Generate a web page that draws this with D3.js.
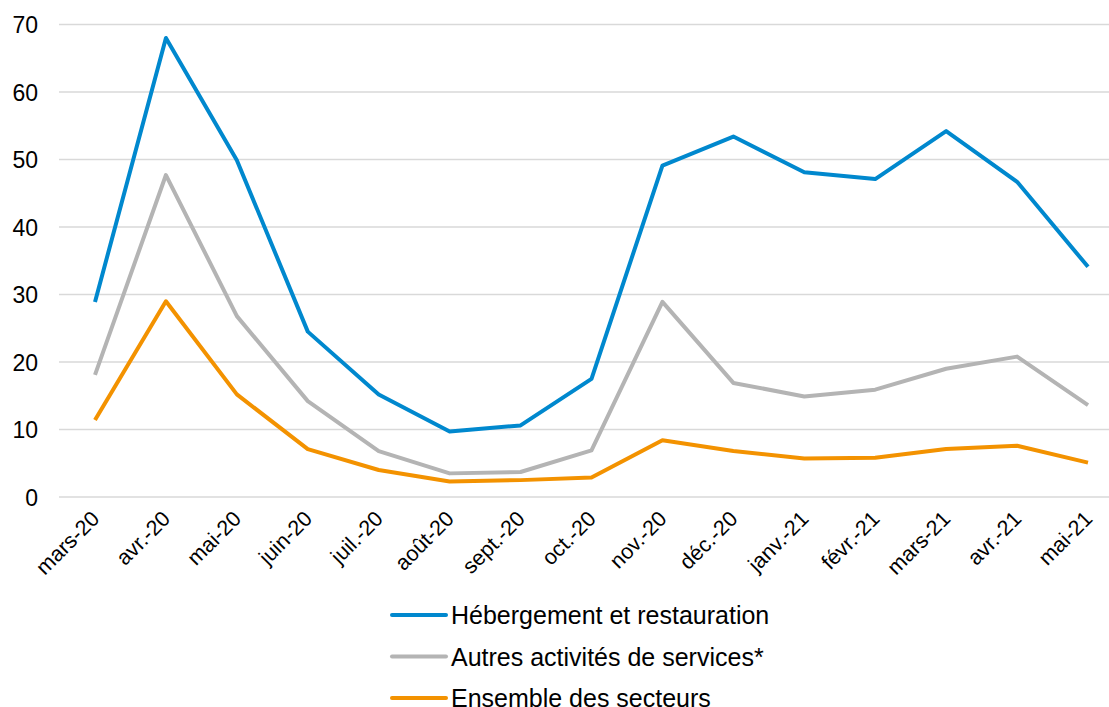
<!DOCTYPE html>
<html lang="fr">
<head>
    <meta charset="utf-8">
    <style>
        body { margin: 0; background: #fff; }
        text { font-family: "Liberation Sans", Arial, sans-serif; fill: #000; }
        .grid line { stroke: #d9d9d9; stroke-width: 1.3; }
        .serie { fill: none; stroke-width: 4; stroke-linejoin: round; }
    </style>
    <script src="https://d3js.org/d3.v7.min.js"></script>
</head>
<body>
    <svg width="1109" height="707"></svg>
    <script>
        var mois = ["mars-20", "avr.-20", "mai-20", "juin-20", "juil.-20", "août-20", "sept.-20",
                    "oct.-20", "nov.-20", "déc.-20", "janv.-21", "févr.-21", "mars-21", "avr.-21", "mai-21"];
        var hebergement = [28.9, 68.0, 49.9, 24.5, 15.2, 9.7, 10.6, 17.5, 49.1, 53.4, 48.1, 47.1, 54.2, 46.7, 34.1];
        var autres = [18.1, 47.7, 26.8, 14.2, 6.8, 3.5, 3.7, 6.9, 28.9, 16.9, 14.9, 15.9, 19.0, 20.8, 13.6];
        var ensemble = [11.4, 29.0, 15.2, 7.1, 4.0, 2.3, 2.5, 2.9, 8.4, 6.8, 5.7, 5.8, 7.1, 7.6, 5.1];
        var yTicks = [0, 10, 20, 30, 40, 50, 60, 70];

        var series = [
            { nom: "Hébergement et restauration", valeurs: hebergement, couleur: "#0088ce" },
            { nom: "Autres activités de services*", valeurs: autres, couleur: "#b4b4b4" },
            { nom: "Ensemble des secteurs", valeurs: ensemble, couleur: "#f39200" }
        ];

        var svg = d3.select("svg");

        var x = d3.scalePoint().domain(mois).range([95, 1088]);
        var y = d3.scaleLinear().domain([0, 70]).range([497, 24.5]);

        // grille horizontale
        svg.append("g")
           .attr("class", "grid")
           .selectAll("line")
           .data(yTicks)
           .enter().append("line")
           .attr("x1", 59)
           .attr("x2", 1109)
           .attr("y1", function(d) { return y(d); })
           .attr("y2", function(d) { return y(d); });

        // axe Y
        var axeY = svg.append("g")
           .attr("transform", "translate(38,0)")
           .call(d3.axisLeft(y).tickValues(yTicks).tickSize(0).tickPadding(0));
        axeY.select(".domain").remove();
        axeY.selectAll("text")
            .attr("font-size", "23px")
            .attr("dy", "0.35em");

        // axe X
        var axeX = svg.append("g")
           .attr("transform", "translate(0,497)")
           .call(d3.axisBottom(x).tickSize(0));
        axeX.select(".domain").remove();
        axeX.selectAll("text")
            .attr("font-size", "21.5px")
            .attr("text-anchor", "end")
            .attr("dy", "0")
            .attr("transform", "translate(3,21) rotate(-45)");

        var ligne = d3.line()
            .x(function(d, i) { return x(mois[i]); })
            .y(function(d) { return y(d); });

        svg.selectAll(".serie")
           .data(series)
           .enter().append("path")
           .attr("class", "serie")
           .attr("stroke", function(d) { return d.couleur; })
           .attr("d", function(d) { return ligne(d.valeurs); });

        // légende
        var legende = svg.append("g")
           .selectAll("g")
           .data(series)
           .enter().append("g")
           .attr("transform", function(d, i) { return "translate(392," + (615 + i * 41.5) + ")"; });

        legende.append("line")
           .attr("x1", 0)
           .attr("x2", 54)
           .attr("stroke", function(d) { return d.couleur; })
           .attr("stroke-width", 4)
           .attr("stroke-linecap", "round");

        legende.append("text")
           .attr("x", 59)
           .attr("dy", "0.36em")
           .attr("font-size", "25px")
           .text(function(d) { return d.nom; });
    </script>
</body>
</html>
